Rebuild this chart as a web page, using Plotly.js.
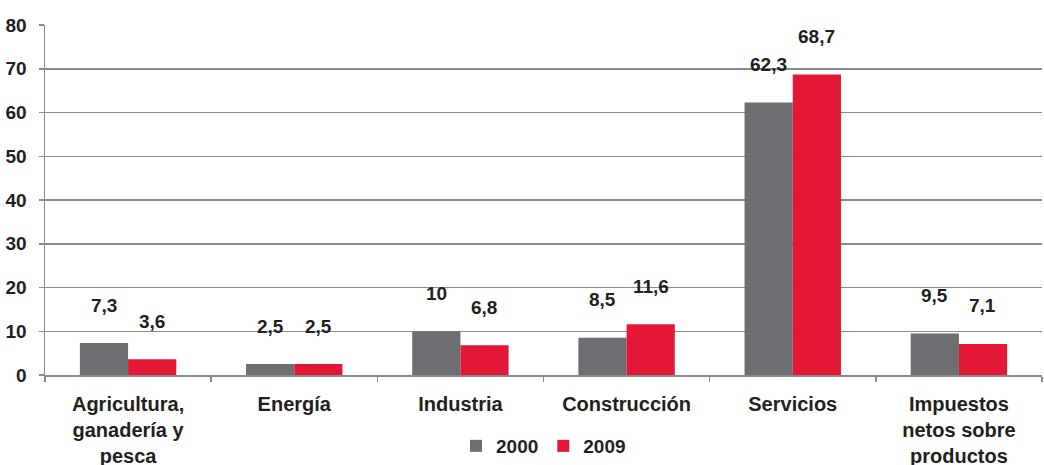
<!DOCTYPE html>
<html><head><meta charset="utf-8">
<script src="https://cdn.plot.ly/plotly-3.0.1.min.js"></script>
<style>html,body{margin:0;padding:0;background:#fff}#chart{width:1044px;height:465px}</style>
</head><body><div id="chart"></div>
<script>
const categories = ["Agricultura,<br>ganadería y<br>pesca", "Energía", "Industria", "Construcción", "Servicios", "Impuestos<br>netos sobre<br>productos"];
const values2000 = [7.3, 2.5, 10, 8.5, 62.3, 9.5];
const values2009 = [3.6, 2.5, 6.8, 11.6, 68.7, 7.1];
const labels2000 = ["7,3", "2,5", "10", "8,5", "62,3", "9,5"];
const labels2009 = ["3,6", "2,5", "6,8", "11,6", "68,7", "7,1"];
const seriesNames = ["2000", "2009"];
const yTicks = [0, 10, 20, 30, 40, 50, 60, 70, 80];

const gray = "#6d6e71", red = "#e31837", ink = "#231f20";
const fam = "Liberation Sans, Arial, sans-serif";

const traces = [
  {type: "bar", name: seriesNames[0], x: categories, y: values2000, marker: {color: gray}, hoverinfo: "none"},
  {type: "bar", name: seriesNames[1], x: categories, y: values2009, marker: {color: red}, hoverinfo: "none"}
];

const annotations = [];
categories.forEach((c, i) => {
  annotations.push({x: c, y: values2000[i], text: "<b>" + labels2000[i] + "</b>", showarrow: false,
    xshift: -24, yshift: 38, yanchor: "middle", font: {family: fam, size: 19, color: ink}});
  annotations.push({x: c, y: values2009[i], text: "<b>" + labels2009[i] + "</b>", showarrow: false,
    xshift: 24, yshift: 38, yanchor: "middle", font: {family: fam, size: 19, color: ink}});
});

const layout = {
  width: 1044, height: 465,
  margin: {l: 45, r: 2, t: 25, b: 90},
  paper_bgcolor: "#fff", plot_bgcolor: "#fff",
  font: {family: fam, size: 19, color: ink},
  barmode: "group", bargap: 0.42, bargroupgap: 0,
  showlegend: true,
  legend: {orientation: "h", x: 0.5, xanchor: "center", xref: "paper", yref: "container", y: 0, yanchor: "bottom",
    font: {family: fam, size: 19, color: ink, weight: "bold"}, itemwidth: 20, tracegroupgap: 0},
  xaxis: {
    type: "category", showline: true, linecolor: "#8a8a8a", linewidth: 1.5,
    ticks: "outside", tickson: "boundaries", ticklen: 5, tickcolor: "#8a8a8a", tickwidth: 1.5,
    tickfont: {family: fam, size: 20, color: ink, weight: "bold"}, ticklabelstandoff: 10,
    showgrid: false, zeroline: false, fixedrange: true
  },
  yaxis: {
    range: [0, 80], tickvals: yTicks, ticktext: yTicks.map(String),
    showline: true, linecolor: "#8a8a8a", linewidth: 1.5,
    ticks: "outside", ticklen: 5, tickcolor: "#8a8a8a", tickwidth: 1.5,
    showgrid: true, gridcolor: "#8a8a8a", gridwidth: 1.5, zeroline: false,
    tickfont: {family: fam, size: 19, color: ink, weight: "bold"}, ticklabelstandoff: 8, fixedrange: true
  },
  annotations: annotations
};

Plotly.newPlot("chart", traces, layout, {displayModeBar: false, staticPlot: true});
</script>
</body></html>
